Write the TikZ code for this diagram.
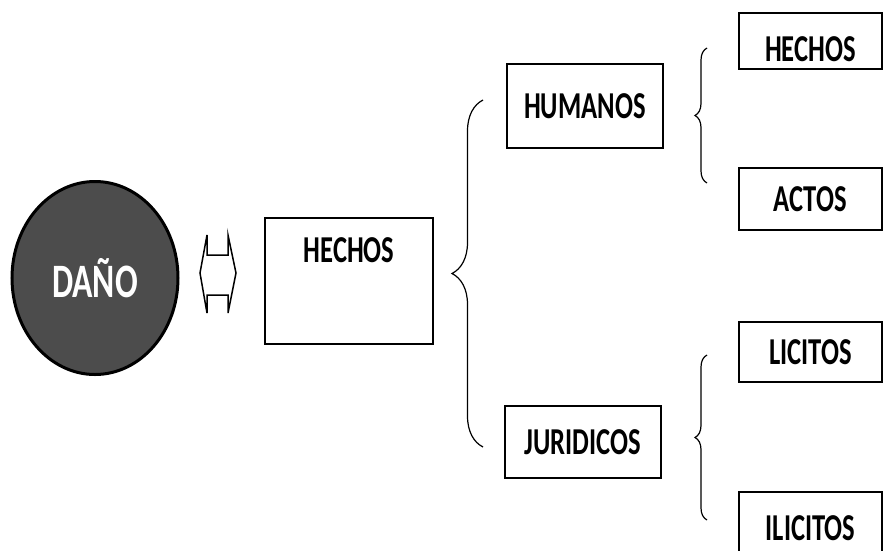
\documentclass[tikz,border=0pt]{standalone}
\usepackage{fontspec}
\setmainfont{Carlito}
\newfontfamily\narrowfont[FakeStretch=0.7]{Carlito}
\usetikzlibrary{shapes.geometric}
\usetikzlibrary{decorations.pathreplacing}
\tikzset{box/.style={draw,line width=1.5,inner sep=0,minimum width=156,minimum height=84,
  font=\narrowfont\bfseries\fontsize{38}{40}\selectfont}}
\tikzset{rbox/.style={box,minimum width=143}}
\tikzset{curly/.style={decorate,decoration={brace,amplitude=#1},line width=1.2}}

\begin{document}
\begin{tikzpicture}[x=1pt,y=-1pt]
\useasboundingbox (0,0) rectangle (884,550);
\clip (0,0) rectangle (884,550);
% left side
\node[draw,ellipse,line width=3,fill=black!70,minimum width=166,minimum height=193,
  text=white,font=\narrowfont\bfseries\fontsize{48}{50}\selectfont] (dano) at (95,278) {DAÑO};
\draw[line width=1.5,line join=miter] (200,273) -- (207,235) -- (207,255) -- (228,255) -- (228,235)
  -- (236,273) -- (228,313) -- (228,295) -- (207,295) -- (207,313) -- cycle;
\node[box,minimum width=168,minimum height=126,text depth=62] (hechos) at (349,281) {HECHOS};
% second level
\node[box] (humanos) at (585,106) {HUMANOS};
\node[box,minimum height=72] (juridicos) at (583,442) {JURIDICOS};
\coordinate (bigtop) at (483,100);
\coordinate (bigbot) at (483,447);
\draw[curly=31pt] (bigbot) -- (bigtop);
% third level
\node[rbox,minimum height=56,text height=42] (hechosb) at (810.5,41) {HECHOS};
\node[rbox,minimum height=62] (actos) at (810.5,199) {ACTOS};
\node[rbox,minimum height=60] (licitos) at (810.5,352) {LICITOS};
\node[rbox,minimum height=72] (ilicitos) at (810.5,528) {ILICITOS};
\coordinate (humtop) at (707,48);
\coordinate (humbot) at (707,183);
\coordinate (jurtop) at (707,355);
\coordinate (jurbot) at (707,520);
\draw[curly=12pt] (humbot) -- (humtop);
\draw[curly=12pt] (jurbot) -- (jurtop);
\end{tikzpicture}
\end{document}
